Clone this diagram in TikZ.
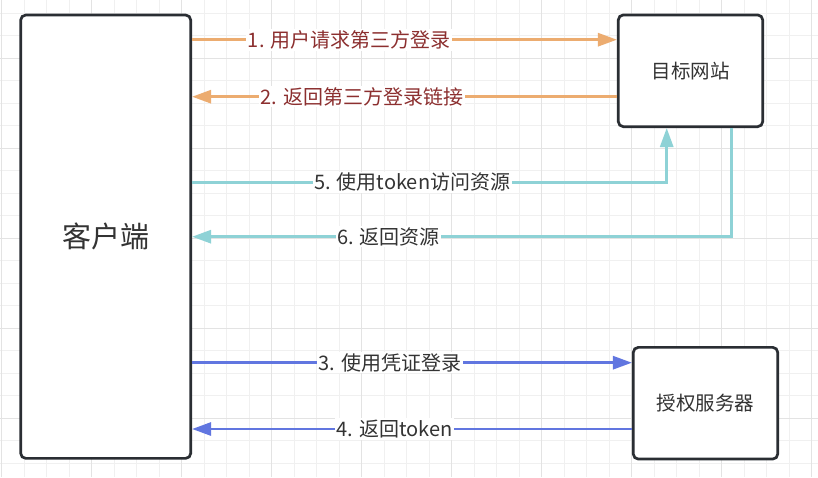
\documentclass[tikz,border=0pt]{standalone}
\usepackage{fontspec}
\setmainfont{Noto Sans CJK SC}
\usetikzlibrary{arrows.meta}
\definecolor{gridminor}{HTML}{F0F0F0}
\definecolor{gridmajor}{HTML}{E3E3E3}
\definecolor{boxline}{HTML}{2A2E33}
\definecolor{txt}{HTML}{333333}
\definecolor{redtxt}{HTML}{8C2F2F}
\definecolor{orangeln}{HTML}{ECAC70}
\definecolor{tealln}{HTML}{8ED2D6}
\definecolor{blueln}{HTML}{6176E0}
\tikzset{
  boxnode/.style={draw=boxline, line width=2.7pt, rounded corners=5pt, fill=white,
    text=txt, font=\fontsize{19.5pt}{23pt}\selectfont, inner sep=0pt},
  flow/.style={line width=2.8pt, -{Triangle[length=19pt,width=13pt]}},
  elabel/.style={fill=white, inner sep=1.5pt, text=txt, font=\fontsize{20pt}{24pt}\selectfont},
  gridln/.style={line width=1.3pt},
}
\begin{document}
\begin{tikzpicture}[x=1pt,y=-1pt]
\useasboundingbox (0,0) rectangle (818,477);
\fill[white] (0,0) rectangle (818,477);
% grid
\foreach \i in {0,...,36} {\draw[gridminor, gridln] ({1.7+22.5*\i},0) -- ({1.7+22.5*\i},477);}
\foreach \j in {0,...,21} {\draw[gridminor, gridln] (0,{13.2+22.5*\j}) -- (818,{13.2+22.5*\j});}
\foreach \i in {0,...,9} {\draw[gridmajor, gridln] ({1.7+90*\i},0) -- ({1.7+90*\i},477);}
\foreach \j in {0,...,5} {\draw[gridmajor, gridln] (0,{58.2+90*\j}) -- (818,{58.2+90*\j});}
% nodes
\node[boxnode, minimum width=170pt, minimum height=443.3pt, font=\fontsize{29pt}{34pt}\selectfont] (client) at (105.7,236.7) {客户端};
\node[boxnode, minimum width=144.4pt, minimum height=111.7pt] (target) at (690.5,70.8) {目标网站};
\node[boxnode, minimum width=144.4pt, minimum height=111.7pt] (auth) at (705.5,403.2) {授权服务器};
% connectors
\draw[flow, orangeln] (client.east |- 0,39.7) -- (target.west |- 0,39.7)
  node[elabel, text=redtxt, pos=0.37] (l1) {1. 用户请求第三方登录};
\draw[flow, orangeln] (target.west |- 0,96.7) -- (client.east |- 0,96.7)
  node[elabel, text=redtxt, pos=0.60] (l2) {2. 返回第三方登录链接};
\draw[flow, tealln] (client.east |- 0,182.3) -| ([xshift=-23.8pt]target.south)
  node[elabel, pos=0.232] (l5) {5. 使用token访问资源};
\draw[flow, tealln] ([xshift=41.2pt]target.south) |- (client.east |- 0,236.7)
  node[elabel, pos=0.818] (l6) {6. 返回资源};
\draw[flow, blueln] (client.east |- 0,362.7) -- (auth.west |- 0,362.7)
  node[elabel, pos=0.45] (l3) {3. 使用凭证登录};
\draw[flow, blueln] (auth.west |- 0,429) -- (client.east |- 0,429)
  node[elabel, pos=0.54] (l4) {4. 返回token};
\end{tikzpicture}
\end{document}
